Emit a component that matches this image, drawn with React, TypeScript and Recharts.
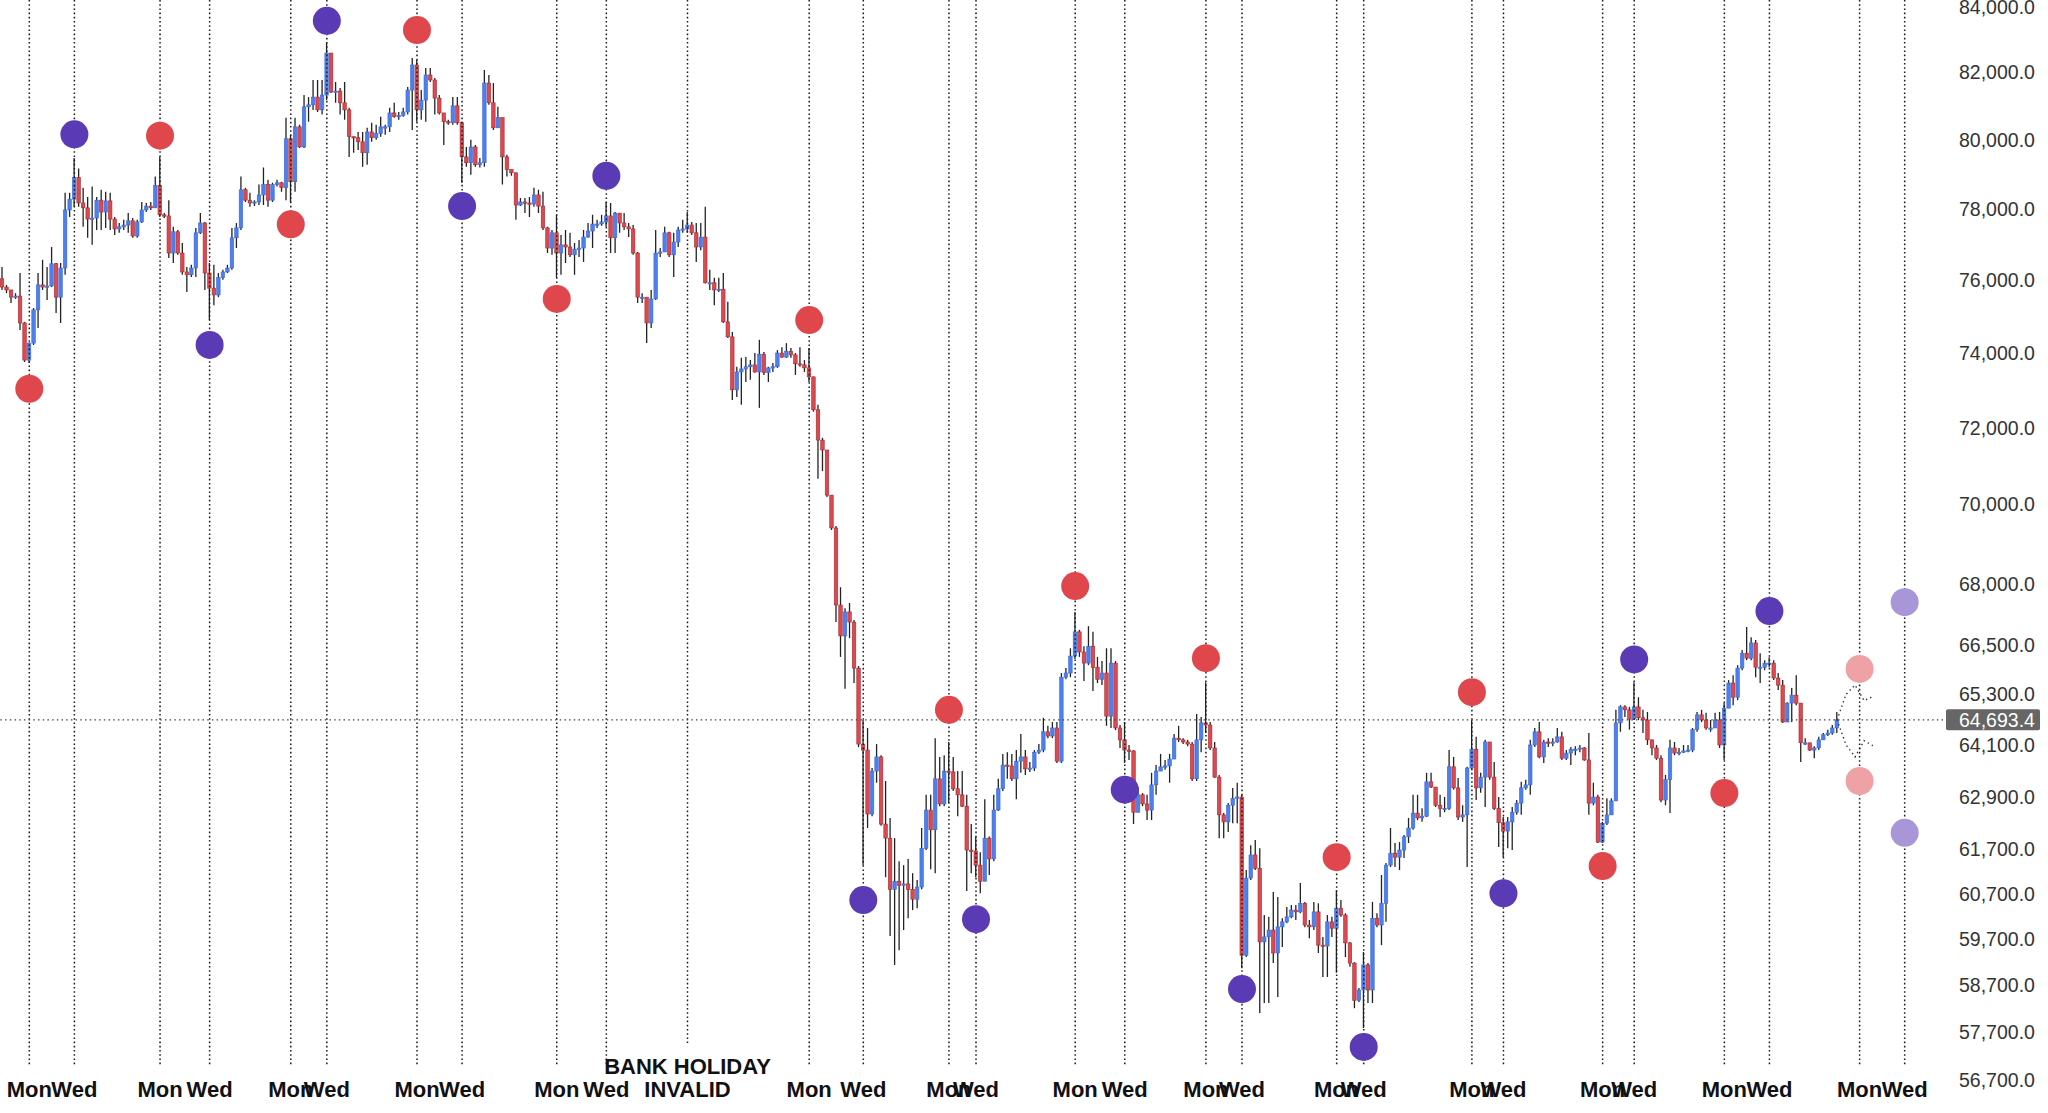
import React from 'react';
import { ComposedChart, Bar, Line, XAxis, YAxis, ReferenceLine, ReferenceDot } from 'recharts';

// ---- price data (one candle per slot, open = previous close) ----
const firstOpen = 76030;
const closes = [
75800,75720,75520,75550,74810,73800,74260,75170,75860,75800,75830,76450,75520,76330,77970,78280,78900,78170,78030,77710,
77740,78250,77910,78230,77710,77430,77490,77540,77660,77230,77630,77970,78080,78030,78670,77830,77800,76750,77350,76750,
76220,76140,76330,77320,77600,76190,75770,75580,76060,76220,76330,77180,77460,78550,78250,78170,78200,78400,78700,78250,
78700,78750,78610,80030,78780,80380,79790,80970,81030,81260,80880,81320,82580,81410,81440,81090,80880,80090,80060,79940,
79620,80230,80060,80180,80380,80380,80790,80680,80710,80820,81470,82220,80880,81170,81920,81770,81230,80790,80530,80500,
81000,80500,79500,79330,79790,79270,79330,81680,81090,80350,80650,79500,79130,79040,78110,78200,78170,78140,78400,78080,
77460,76890,77320,76750,76980,76920,76700,76860,76890,77200,77370,77570,77570,77630,77800,77180,77880,77600,77490,77430,
76750,75520,75520,74810,75470,76750,76780,77320,76700,77060,77400,77430,77540,77320,76920,77200,75920,75920,75720,75740,
74840,74430,73000,73480,73560,73620,73670,73480,73960,73460,73590,73620,73990,73880,74040,73940,73700,73670,73590,73350,
72470,71670,71410,70240,69400,67470,66710,67300,67050,65930,64120,63980,62500,63490,63820,62270,61950,60800,60980,60890,
60920,60800,60580,60850,61720,62590,62140,63310,62730,63490,63470,63080,62940,62680,61680,61660,61340,60980,61950,61480,
62590,63080,63630,63610,63310,63720,63820,63540,63560,63930,63980,64410,64310,64500,63720,65710,65810,66220,66810,66320,
66050,66460,65950,65660,65810,64780,66050,64500,64220,63980,63960,62540,62940,62730,62590,63170,63490,63590,63610,63770,
64260,64220,64170,64120,63310,64220,64620,64570,64030,63350,62480,62320,62700,62860,62890,59350,61050,61570,61270,59640,
59750,59900,59400,59970,60080,60190,60340,60300,60490,60010,59970,60300,59570,59550,60080,59940,60380,60230,59620,59180,
58380,58600,59140,58600,60160,60010,60490,61340,61610,61520,61680,61980,62180,62520,62410,62450,63240,63120,62700,62630,
62630,63590,63100,62430,62480,63560,64000,63100,63350,64170,63350,62630,62300,62110,62320,62540,62750,63100,63170,64100,
64410,63820,64170,64150,64170,64290,63790,63910,64000,64000,64030,63750,62750,62890,61860,62290,62480,62800,64620,65000,
64930,64710,65000,64740,64690,64220,64030,63790,62820,63290,64030,63910,63930,63960,63980,64460,64810,64690,64500,64500,
64690,64100,64970,65570,65230,65930,66290,66170,66540,65950,65950,66050,66050,65690,65520,64640,65090,65280,65090,64150,
64150,63980,64030,64220,64340,64380,64500,64693.4
];
const highs = [
76360,75860,75720,75630,76190,74840,74280,75220,76190,76560,76360,76920,76470,76470,78460,78460,79470,79160,78610,78340,
78640,78340,78550,78490,78460,77770,77600,77690,77880,77740,77690,78200,78170,78200,78930,79500,77880,78250,77490,77400,
77030,76360,76420,77460,77880,77630,76470,76420,76190,76280,76420,77460,77600,78930,78610,78460,78250,78700,79190,78840,
78750,78840,78780,80650,80150,80650,80440,81320,81260,81770,81770,81770,82890,82580,81710,81530,81710,80940,80090,80230,
80230,80350,80500,80440,80680,80440,80940,81090,80820,80940,81560,82430,82370,81470,82130,82130,81830,81320,80790,80590,
81260,81260,80530,79790,80000,79850,79470,82070,81920,81680,80970,80650,79560,79130,79040,78310,78310,78340,78610,78550,
78490,77490,77400,77830,77260,77400,77320,77030,77120,77400,77600,77830,77690,77830,78200,78170,77910,77880,77880,77600,
77540,76780,75630,75520,75720,77400,76890,77490,77350,77320,77490,77690,77910,77630,77600,77600,78060,76280,76060,76060,
76190,75390,74560,73620,73860,73880,73800,73990,74350,74020,73620,73720,74070,74150,74260,74130,73990,74150,73800,74130,
73350,72600,71730,71410,70240,69450,67910,67390,67520,67100,65980,64690,64500,63560,64120,63860,63260,62410,61950,61430,
61340,61480,61160,61010,62180,62940,62940,64260,63820,63860,64170,63820,63490,63490,62940,62270,61990,61630,62840,61990,
62940,63310,63890,63930,63890,63980,64360,63980,63700,63980,64120,64740,64550,64640,64640,65810,65930,66410,67300,66860,
66460,66950,66810,66200,66100,66410,66410,66100,64570,64640,64100,63980,63120,62980,62940,63450,63630,63890,63750,63890,
64360,64550,64260,64220,64170,64830,64760,65590,64640,64170,63400,62520,62750,63100,63220,62940,61230,61790,61910,61720,
60230,60190,60740,60630,60160,60410,60450,60450,60940,60520,60120,60520,60490,59750,60230,60190,60780,60560,60270,59640,
59200,58640,59420,59180,60520,60270,61120,61390,62180,61840,61860,62020,62410,62940,62940,62630,63450,63450,63120,62940,
62890,63980,63820,63330,62700,63590,64690,64290,63450,64220,64170,63700,62890,62430,62430,62660,62820,63240,63290,64220,
64500,64640,64220,64260,64260,64500,64410,63980,64050,64070,64100,64050,64380,63220,62940,62320,62860,62860,64930,65040,
65040,65000,65590,65230,64930,64880,64220,64100,63860,63400,64220,64170,64030,64100,64100,64500,64880,64930,64860,64690,
64860,64880,65090,65640,65760,66000,66370,66930,66680,66610,66290,66120,66190,66120,65810,65640,65110,65450,65760,65090,
64260,64150,64070,64290,64380,64460,64570,64880
];
const lows = [
75720,75630,75360,75470,74620,73750,73720,74210,74670,75720,75440,75800,75080,74810,76140,77770,78060,78060,77490,77180,
76980,77400,77400,77460,77400,77260,77320,77400,77320,77180,77180,77600,77910,77970,78030,77770,77740,76610,76470,76700,
76140,75660,76080,76080,77290,75720,74890,75300,75520,76000,76190,76280,76890,77400,78200,78060,78080,78110,78110,78060,
78200,78640,78490,78250,78200,78490,79760,79760,80530,80880,80820,80740,81170,81380,81090,80740,80590,79500,79620,79700,
79210,79270,79940,80000,80090,80150,80230,80650,80590,80680,80740,80290,80530,80590,80530,81710,80740,80740,79850,80440,
80440,80440,78750,79210,78980,79210,79190,79210,81030,80290,80350,78700,78930,78950,77690,78080,77880,77770,78060,77880,
77400,76750,76700,76060,76140,76470,76640,76140,76640,76500,77180,76890,77460,77520,77490,76750,76750,77320,77400,77200,
76700,75360,75360,74260,74670,75440,76640,76780,76640,76080,76920,77320,77320,77260,76500,76830,75900,75720,75300,75660,
74810,74400,72730,72810,72600,73210,73270,73460,72520,73400,73210,73480,73590,73860,73860,73860,73400,73620,73480,73210,
72420,70660,70860,70190,69350,67050,66200,65430,66660,65570,64050,61340,62180,62450,63220,62230,61070,59770,59140,59460,
59900,60160,60340,60380,60800,61680,61250,61160,62680,62680,62750,63030,62450,62660,60760,61160,61070,60710,60980,61120,
61430,62570,63030,63310,63260,62840,63450,63400,63470,63490,63890,63930,64260,64260,63680,63680,65660,65710,66150,66200,
65620,66000,65380,65570,65520,64550,64500,64450,64030,63680,63750,62270,62540,62680,62360,62360,62940,63490,63520,63220,
63770,64170,64120,64070,63260,63260,63930,64380,63980,63330,61950,61950,62090,62290,62290,59070,59310,61010,61230,58110,
58320,58320,59180,58450,59530,60050,60160,60120,60270,59960,59720,59900,59400,58880,58880,59750,58970,60190,59310,59100,
58210,58340,57790,58320,58320,59960,59570,60080,61300,61300,61230,61500,61840,62140,62360,62320,62430,63100,62660,62430,
62540,62590,63060,62360,62320,61300,63520,62820,62990,62660,63290,62590,61750,61520,61720,61680,62480,62480,63060,62940,
64050,63790,63680,64050,64070,64150,63750,63750,63630,63860,63930,63730,62480,62700,61840,61840,62250,62480,62800,64410,
64760,64460,64690,64690,64380,64100,63860,63750,62770,62700,62520,63860,63860,63910,63930,63930,64410,64640,64460,64410,
64500,64030,63750,64990,65040,65160,65880,66120,66120,65710,65570,65880,65950,65640,65400,64620,64640,64640,65040,63700,
64100,63960,63790,63980,64290,64310,64340,64380
];

// ---- faint projected paths after the last candle ----
const projIndex = [407, 409, 411, 413, 415];
const projUpper = [64693.4, 65300, 65520, 65150, 65250];
const projLower = [64693.4, 64100, 63820, 64200, 64080];

// ---- axis ticks ----
const SLOT_COUNT = 431;
const dayTickIndex = [6,16,35,46,64,72,92,102,123,134,179,191,210,216,238,249,267,275,296,302,326,333,355,362,382,392,412,422];
const dayTickLabel = ['Mon','Wed','Mon','Wed','Mon','Wed','Mon','Wed','Mon','Wed','Mon','Wed','Mon','Wed','Mon','Wed','Mon','Wed','Mon','Wed','Mon','Wed','Mon','Wed','Mon','Wed','Mon','Wed'];
const holidayIndex = 152;
const holidayLines = ['BANK HOLIDAY', 'INVALID'];
const priceTicks = [56700,57700,58700,59700,60700,61700,62900,64100,65300,66500,68000,70000,72000,74000,76000,78000,80000,82000,84000];
const lastPrice = 64693.4;

// ---- swing markers ----
const markerIndex = [6,16,35,46,64,72,92,102,123,134,179,191,210,216,238,249,267,275,296,302,326,333,355,362,382,392];
const markerPrice = [73030,80160,80120,74210,77560,83560,83280,78080,75470,78950,74890,60560,64930,60140,67940,63060,66170,58620,61520,57390,65350,60710,61320,66140,62980,67320];
const projMonIndex = 412;
const projMonPrices = [65910, 63260];
const projWedIndex = 422;
const projWedPrices = [67540, 62070];

const COLORS = {
  up: '#4c7ff0', upEdge: '#3d69d0', down: '#dc4a50', downEdge: '#a32a30', wick: '#222',
  mon: '#e0474d', wed: '#5b3ab5', monFaded: '#eea2a6', wedFaded: '#a896d8',
};

const data = Array.from({ length: SLOT_COUNT }, (_, i) => {
  const row: any = { i };
  const pk = projIndex.indexOf(i);
  if (pk >= 0) { row.pu = projUpper[pk]; row.pl = projLower[pk]; }
  if (i >= closes.length) return row;
  const o = i === 0 ? firstOpen : closes[i - 1];
  const c = closes[i];
  const h = Math.max(highs[i], o, c);
  const l = Math.min(lows[i], o, c);
  return { ...row, o, c, up: c >= o, wick: [l, h], body: [Math.min(o, c), Math.max(o, c)] };
});

const FONT = 'Liberation Sans, Arial, Helvetica, sans-serif';

const WickShape = (props: any) => {
  const { x, y, width, height } = props;
  if (x == null || y == null || height == null) return <g />;
  const top = Math.min(y, y + height);
  const h = Math.abs(height);
  const cx = x + width / 2;
  return <line x1={cx} x2={cx} y1={top} y2={top + h} stroke={COLORS.wick} strokeWidth={1.3} />;
};

const BodyShape = (props: any) => {
  const { x, y, width, height, payload } = props;
  if (x == null || y == null || height == null) return <g />;
  const top = Math.min(y, y + height);
  const h = Math.max(Math.abs(height), 1.3);
  const cx = x + width / 2;
  const up = payload && payload.up;
  return (
    <rect x={cx - 1.75} y={top} width={3.5} height={h}
      fill={up ? COLORS.up : COLORS.down} stroke={up ? COLORS.upEdge : COLORS.downEdge} strokeWidth={0.6} />
  );
};

const XTick = (props: any) => {
  const { x, y, payload } = props;
  const k = dayTickIndex.indexOf(payload.value);
  if (k < 0) return <g />;
  return (
    <text x={x} y={y + 9} textAnchor="middle" dominantBaseline="central" fontFamily={FONT}
      fontWeight={700} fontSize={22} fill="#111">{dayTickLabel[k]}</text>
  );
};

const fmt = (v: number) => v.toLocaleString('en-US', { minimumFractionDigits: 1, maximumFractionDigits: 1 });

const YTick = (props: any) => {
  const { x, y, payload } = props;
  return (
    <text x={x + 16} y={y} textAnchor="start" dominantBaseline="central" fontFamily={FONT}
      fontSize={19.5} fill="#333">{fmt(payload.value)}</text>
  );
};

const DOTS = '1.6 2.6';

const dayLineShape = (props: any) => {
  const x = props.x1;
  return <line x1={x} x2={x} y1={0} y2={1066} stroke="#1a1a1a" strokeWidth={1.5} strokeDasharray={DOTS} />;
};

const holidayShape = (props: any) => {
  const x = props.x1;
  return (
    <g>
      <line x1={x} x2={x} y1={0} y2={1043} stroke="#1a1a1a" strokeWidth={1.5} strokeDasharray={DOTS} />
      <text x={x} y={1066} textAnchor="middle" dominantBaseline="central" fontFamily={FONT}
        fontWeight={700} fontSize={22} fill="#111">{holidayLines[0]}</text>
      <text x={x} y={1089} textAnchor="middle" dominantBaseline="central" fontFamily={FONT}
        fontWeight={700} fontSize={22} fill="#111">{holidayLines[1]}</text>
    </g>
  );
};

const PriceLabel = (props: any) => {
  const vb = props.viewBox || {};
  const right = (vb.x || 0) + (vb.width || 0);
  const cy = vb.y || 0;
  return (
    <g>
      <rect x={right + 3} y={cy - 10.5} width={94} height={21} rx={2} fill="#666" />
      <text x={right + 16} y={cy} dominantBaseline="central" fontFamily={FONT} fontSize={19.5} fill="#fff">{fmt(lastPrice)}</text>
    </g>
  );
};

export default function App() {
  return (
    <div style={{ position: 'absolute', left: 0, top: 0, width: 2048, height: 1113, background: '#fff' }}>
      <ComposedChart width={2048} height={1113} data={data}
        margin={{ top: 6.5, right: 0, bottom: 0, left: 0 }} barCategoryGap={0} barGap={0}>
        <XAxis dataKey="i" type="category" height={33} ticks={dayTickIndex} interval={0}
          tick={XTick} axisLine={false} tickLine={false} tickSize={0} tickMargin={0} />
        <XAxis xAxisId="b" dataKey="i" type="category" hide />
        <YAxis orientation="right" width={105} type="number" scale="log" domain={[56700, 84000]}
          allowDataOverflow ticks={priceTicks} interval={0} tick={YTick}
          axisLine={false} tickLine={false} tickSize={0} tickMargin={0} />
        <Bar dataKey="wick" barSize={4} shape={WickShape} isAnimationActive={false} />
        <Bar dataKey="body" xAxisId="b" barSize={4} shape={BodyShape} isAnimationActive={false} />
        <Line dataKey="pu" connectNulls dot={false} stroke="#333" strokeWidth={1.4} strokeDasharray="1.4 3.2"
          isAnimationActive={false} activeDot={false} />
        <Line dataKey="pl" connectNulls dot={false} stroke="#333" strokeWidth={1.4} strokeDasharray="1.4 3.2"
          isAnimationActive={false} activeDot={false} />
        {dayTickIndex.map((t) => (
          <ReferenceLine key={'d' + t} x={t} shape={dayLineShape} />
        ))}
        <ReferenceLine x={holidayIndex} shape={holidayShape} />
        <ReferenceLine y={lastPrice} stroke="#444" strokeWidth={1.3} strokeDasharray="1.5 3.2" label={PriceLabel} />
        {markerIndex.map((t, k) => (
          <ReferenceDot key={'m' + t} x={t} y={markerPrice[k]} r={14}
            fill={dayTickLabel[dayTickIndex.indexOf(t)] === 'Mon' ? COLORS.mon : COLORS.wed} stroke="none" />
        ))}
        {projMonPrices.map((p, k) => (
          <ReferenceDot key={'pm' + k} x={projMonIndex} y={p} r={14} fill={COLORS.monFaded} stroke="none" />
        ))}
        {projWedPrices.map((p, k) => (
          <ReferenceDot key={'pw' + k} x={projWedIndex} y={p} r={14} fill={COLORS.wedFaded} stroke="none" />
        ))}
      </ComposedChart>
    </div>
  );
}
